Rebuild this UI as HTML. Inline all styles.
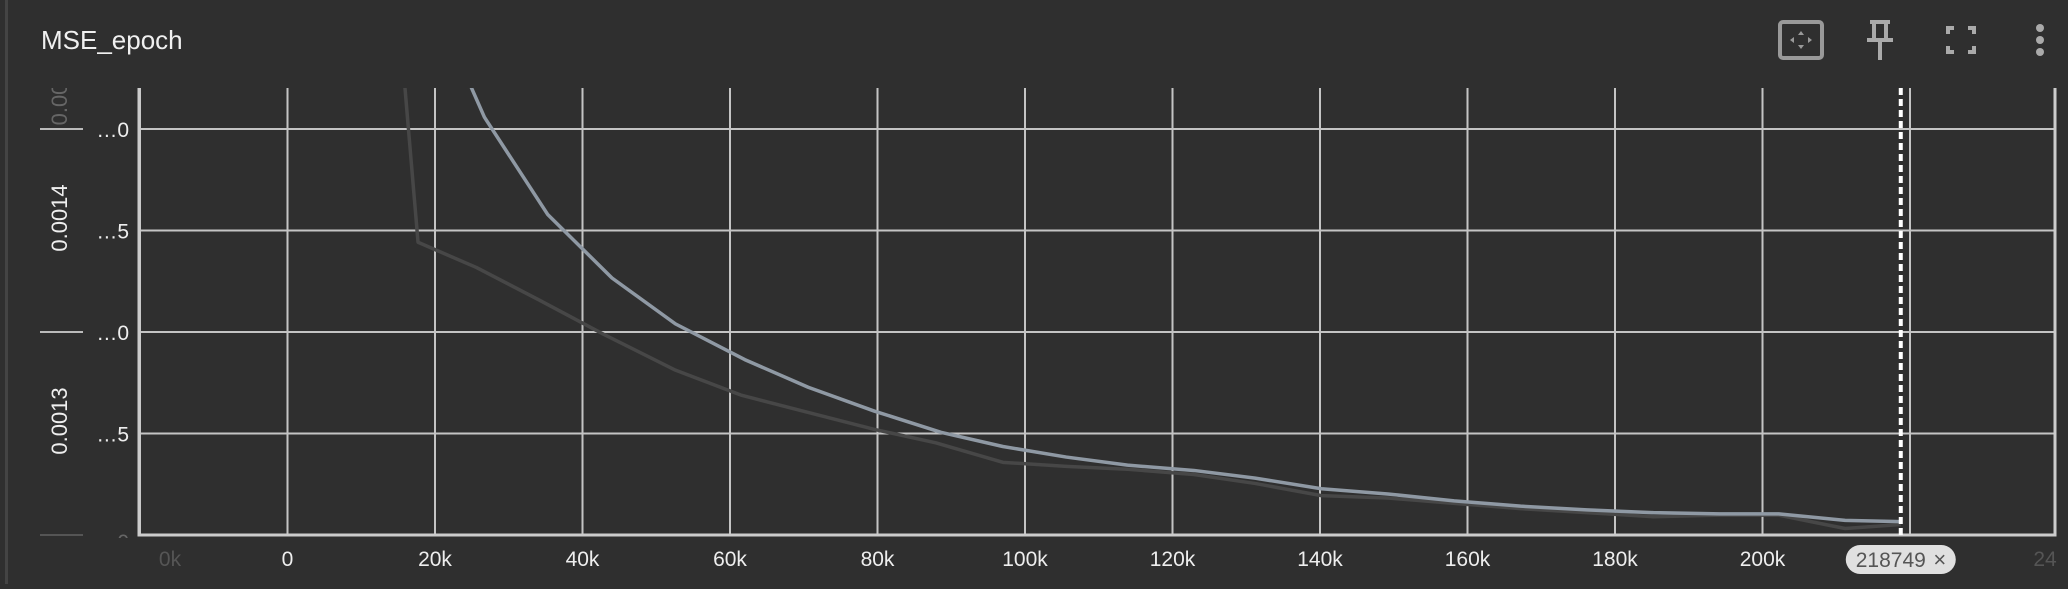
<!DOCTYPE html>
<html><head><meta charset="utf-8"><style>
body{margin:0;background:#2f2f2f;width:2068px;height:584px;overflow:hidden;font-family:"Liberation Sans",sans-serif}
</style></head><body>
<svg id="c" width="2068" height="584" xmlns="http://www.w3.org/2000/svg">
<rect x="0" y="0" width="2068" height="584" fill="#2f2f2f"/>
<rect x="5" y="0" width="3" height="584" fill="#444"/>
<text x="41" y="49" fill="#f0f0f0" font-size="26">MSE_epoch</text>
<g><rect x="1780" y="22" width="42" height="36" rx="3" fill="none" stroke="#999" stroke-width="4"/><path d="M1801 31l-3 4h6z M1801 49l-3-4h6z M1790 40l4-3v6z M1812 40l-4-3v6z" fill="#999"/></g>
<g fill="none" stroke="#aaa" stroke-width="4"><path d="M1870 22h20 M1874 22v16 M1886 22v16 M1867 40h26 M1880 40v20"/></g>
<g fill="none" stroke="#aaa" stroke-width="4"><path d="M1948 34v-6h6 M1968 28h6v6 M1974 46v6h-6 M1954 52h-6v-6"/></g>
<g fill="#aaa"><circle cx="2040" cy="28" r="4"/><circle cx="2040" cy="40" r="4"/><circle cx="2040" cy="52" r="4"/></g>
<g id="plot"></g>
</svg>
<script>
const xTicks=[-20000,0,20000,40000,60000,80000,100000,120000,140000,160000,180000,200000,220000,240000];
const xTickLabels=["-20k","0","20k","40k","60k","80k","100k","120k","140k","160k","180k","200k","",""];
const yTicks=[0.0013,0.001325,0.00135,0.001375,0.0014];
const yTickLabels=["0","…5","…0","…5","…0"];
const lightSteps=[17700,26700,35300,44000,52600,62000,70600,79600,88600,97000,105600,113900,122900,131200,140200,149200,158200,167200,176200,185200,194200,202200,211200,218749];
const lightValues=[0.001440,0.0014029,0.0013789,0.0013633,0.0013520,0.0013432,0.0013364,0.0013305,0.0013253,0.0013218,0.0013192,0.0013172,0.0013159,0.0013140,0.0013114,0.0013101,0.0013084,0.0013071,0.0013062,0.0013055,0.0013052,0.0013052,0.0013036,0.0013033];
const darkSteps=[15000,17700,25600,34200,42900,52600,61600,70600,79600,87900,97000,105600,113900,122900,131200,140200,149200,158200,167200,176200,185200,194200,202200,211200,218749];
const darkValues=[0.00143,0.0013721,0.0013659,0.0013578,0.0013494,0.0013406,0.0013344,0.0013302,0.0013260,0.0013227,0.0013179,0.0013169,0.0013162,0.0013149,0.0013127,0.0013097,0.0013091,0.0013078,0.0013065,0.0013055,0.0013045,0.0013049,0.0013049,0.0013016,0.0013026];
const cursorStep=218749;
const L=139,R=2055,T=88,B=535;
const x=v=>287.5+v*147.5/20000;
const y=v=>535-(v-0.0013)/0.0001*406;
const NS="http://www.w3.org/2000/svg";
const g=document.getElementById('plot');
function mk(t,a,p){const e=document.createElementNS(NS,t);for(const k in a)e.setAttribute(k,a[k]);(p||g).appendChild(e);return e;}
const defs=document.createElementNS(NS,'defs');defs.innerHTML='<clipPath id="cp"><rect x="139" y="88" width="1916" height="447"/></clipPath><clipPath id="ycp"><rect x="0" y="88" width="139" height="450"/></clipPath>';g.appendChild(defs);
xTicks.forEach((t,i)=>{const px=x(t);
 if(px>L&&px<R){const l=mk('line',{x1:px,x2:px,y1:T,y2:B,stroke:'#c4c4c4','stroke-width':2});
 
 }
 const lbl=i===0?"0k":(i===xTicks.length-1?"24":xTickLabels[i]);
 if(lbl){const tx=mk('text',{x:px,y:566,fill:(i===0||i===xTicks.length-1)?'#555':'#eee','font-size':21,'text-anchor':'middle'});
 if(i===0)tx.setAttribute('x',px+30);
 if(i===xTicks.length-1)tx.setAttribute('x',2045);
 tx.textContent=lbl;
 
 }
});
const yg=mk('g',{'clip-path':'url(#ycp)'});


yTicks.forEach((t,i)=>{const py=y(t);
 if(i>0){const l=mk('line',{x1:L,x2:R,y1:py,y2:py,stroke:'#c4c4c4','stroke-width':2});
 
 }
 const tx=mk('text',{x:129,y:i===0?py+14:py+8,fill:i===0?'#666':'#eee','font-size':21,'text-anchor':'end'},yg);
 tx.textContent=yTickLabels[i];
 
 
});
[[129,'#bbb'],[332,'#bbb'],[535,'#555']].forEach(a=>{const l=mk('line',{x1:40,x2:83,y1:a[0],y2:a[0],stroke:a[1],'stroke-width':2});
 
 });
[["0.0014",218,'#eee'],["0.0013",421,'#eee'],["0.00",104,'#666']].forEach(a=>{const tx=mk('text',{x:0,y:0,fill:a[2],'font-size':22,'text-anchor':'middle',transform:`translate(67,${a[1]}) rotate(-90)`},yg);
 tx.textContent=a[0];
 
 });
const ax=mk('path',{d:`M${L} ${T}V${B}H${R}V${T}`,fill:'none',stroke:'#ccc','stroke-width':3});


function line(st,vals,col,name){const p=mk('polyline',{points:st.map((s,i)=>x(s)+','+y(vals[i])).join(' '),fill:'none',stroke:col,'stroke-width':3.5,'stroke-linejoin':'round','clip-path':'url(#cp)'});
 
 }
line(darkSteps,darkValues,'#474747','series-dark-line');
line(lightSteps,lightValues,'#8f99a4','series-light-line');
const cl=mk('line',{x1:x(cursorStep),x2:x(cursorStep),y1:T,y2:B,stroke:'#fff','stroke-width':4,'stroke-dasharray':'7 4'});


const pill=mk('rect',{x:x(cursorStep)-55,y:545,width:110,height:29,rx:14.5,fill:'#e0e0e0'});


const pt=mk('text',{x:x(cursorStep)-10,y:567,fill:'#555','font-size':21,'text-anchor':'middle'});
pt.textContent=String(cursorStep);


const px=mk('text',{x:x(cursorStep)+39,y:567,fill:'#555','font-size':22,'text-anchor':'middle'});
px.textContent='×';


</script>
</body></html>
